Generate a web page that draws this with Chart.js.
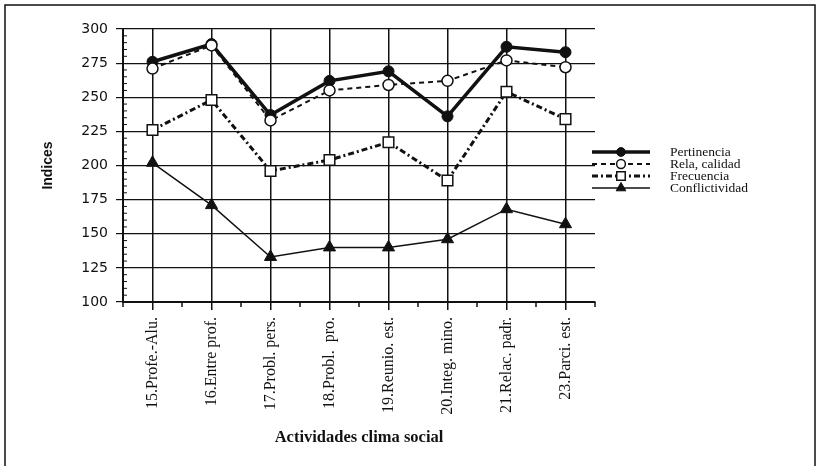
<!DOCTYPE html>
<html>
<head>
<meta charset="utf-8">
<script src="https://cdn.jsdelivr.net/npm/chart.js@4/dist/chart.umd.min.js"></script>
<style>
  html, body { margin: 0; padding: 0; background: #fff; }
  #wrap { width: 818px; height: 466px; }
</style>
</head>
<body>
<div id="wrap"><canvas id="chart" width="818" height="466"></canvas></div>
<script>
// Data
const categories = ['15.Profe.-Alu.', '16.Entre prof.', '17.Probl. pers.', '18.Probl.  pro.',
  '19.Reunio. est.', '20.Integ. mino.', '21.Relac. padr.', '23.Parci. est.'];
const pertinencia = [276, 289, 237, 262, 269, 236, 287, 283];
const relaCalidad = [271, 288, 233, 255, 259, 262, 277, 272];
const frecuencia = [226, 248, 196, 204, 217, 189, 254, 234];
const conflictividad = [202, 171, 133, 140, 140, 146, 168, 157];
const yMin = 100, yMax = 300, yStep = 25, yMinorStep = 5;

const INK = '#111';

// Minor ticks, legend and outer frame
const extrasPlugin = {
  id: 'extras',
  afterDraw(chart) {
    const ctx = chart.ctx;
    const x = chart.scales.x, y = chart.scales.y;
    const area = chart.chartArea;
    ctx.save();
    ctx.strokeStyle = INK;
    ctx.lineWidth = 1.5;

    // minor ticks on the category axis (half-way between labels)
    for (let i = 0; i <= categories.length; i++) {
      const px = (x.getPixelForValue(i - 1) + x.getPixelForValue(i)) / 2;
      ctx.beginPath();
      ctx.moveTo(px, area.bottom);
      ctx.lineTo(px, area.bottom + 5);
      ctx.stroke();
    }
    // minor ticks on the value axis, pointing inward
    ctx.lineWidth = 1;
    for (let v = yMin + yMinorStep; v < yMax; v += yMinorStep) {
      if (v % yStep === 0) continue;
      const py = y.getPixelForValue(v);
      ctx.beginPath();
      ctx.moveTo(area.left, py);
      ctx.lineTo(area.left + 4, py);
      ctx.stroke();
    }

    // legend: line sample with marker, then label
    chart.data.datasets.forEach((ds, i) => {
      const ly = 152 + i * 12;
      ctx.save();
      ctx.strokeStyle = ds.borderColor;
      ctx.lineWidth = ds.borderWidth;
      ctx.setLineDash(ds.borderDash || []);
      ctx.beginPath();
      ctx.moveTo(592, ly);
      ctx.lineTo(650, ly);
      ctx.stroke();
      ctx.setLineDash([]);
      ctx.fillStyle = ds.pointBackgroundColor;
      ctx.strokeStyle = ds.borderColor;
      ctx.lineWidth = ds.pointBorderWidth;
      Chart.helpers.drawPoint(ctx, {
        pointStyle: ds.pointStyle, radius: ds.pointRadius * 0.8, rotation: 0,
        borderWidth: ds.pointBorderWidth
      }, 621, ly);
      ctx.restore();
      ctx.fillStyle = INK;
      ctx.font = '13.5px "Liberation Serif"';
      ctx.textBaseline = 'middle';
      ctx.fillText(ds.label, 670, ly);
    });

    // outer frame
    ctx.lineWidth = 1.5;
    ctx.strokeStyle = INK;
    ctx.strokeRect(5, 5, 810, 480);
    ctx.restore();
  }
};

new Chart(document.getElementById('chart'), {
  type: 'line',
  data: {
    labels: categories,
    datasets: [
      {
        label: 'Pertinencia', data: pertinencia, order: 1,
        borderColor: INK, borderWidth: 3.5,
        pointStyle: 'circle', pointRadius: 5.5,
        pointBackgroundColor: INK, pointBorderColor: INK, pointBorderWidth: 1
      },
      {
        label: 'Rela, calidad', data: relaCalidad, order: 0,
        borderColor: INK, borderWidth: 2, borderDash: [5, 4],
        pointStyle: 'circle', pointRadius: 5.5,
        pointBackgroundColor: '#fff', pointBorderColor: INK, pointBorderWidth: 1.5
      },
      {
        label: 'Frecuencia', data: frecuencia, order: 2,
        borderColor: INK, borderWidth: 3, borderDash: [6, 3, 2, 3],
        pointStyle: 'rect', pointRadius: 7.5,
        pointBackgroundColor: '#fff', pointBorderColor: INK, pointBorderWidth: 1.5
      },
      {
        label: 'Conflictividad', data: conflictividad, order: 3,
        borderColor: INK, borderWidth: 1.5,
        pointStyle: 'triangle', pointRadius: 7,
        pointBackgroundColor: INK, pointBorderColor: INK, pointBorderWidth: 1
      }
    ]
  },
  options: {
    responsive: false,
    animation: false,
    events: [],
    layout: { padding: { left: 36, right: 223, top: 29, bottom: 14 } },
    plugins: { legend: { display: false }, tooltip: { enabled: false } },
    elements: { line: { tension: 0 } },
    scales: {
      x: {
        offset: true,
        afterFit: s => { s.height = 150; },
        grid: { offset: false, color: INK, lineWidth: 1.5, tickLength: 8 },
        border: { color: INK, width: 2 },
        ticks: {
          color: INK, minRotation: 90, maxRotation: 90, autoSkip: false, padding: 7,
          font: { family: '"Liberation Serif"', size: 16 }
        },
        title: {
          display: true, text: 'Actividades clima social', color: INK,
          padding: { top: 4, bottom: 4 },
          font: { family: '"Liberation Serif"', size: 16.5, weight: 'bold' }
        }
      },
      y: {
        min: yMin, max: yMax,
        afterFit: s => { s.width = 87; },
        grid: { color: INK, lineWidth: 1.2, tickLength: 7 },
        border: { color: INK, width: 2 },
        ticks: {
          stepSize: yStep, color: INK, padding: 8,
          font: { family: '"DejaVu Sans"', size: 14 }
        },
        title: {
          display: true, text: 'Indices', color: INK,
          padding: { top: 4, bottom: 4 },
          font: { family: '"Liberation Sans"', size: 14, weight: 'bold' }
        }
      }
    }
  },
  plugins: [extrasPlugin]
});
</script>
</body>
</html>
